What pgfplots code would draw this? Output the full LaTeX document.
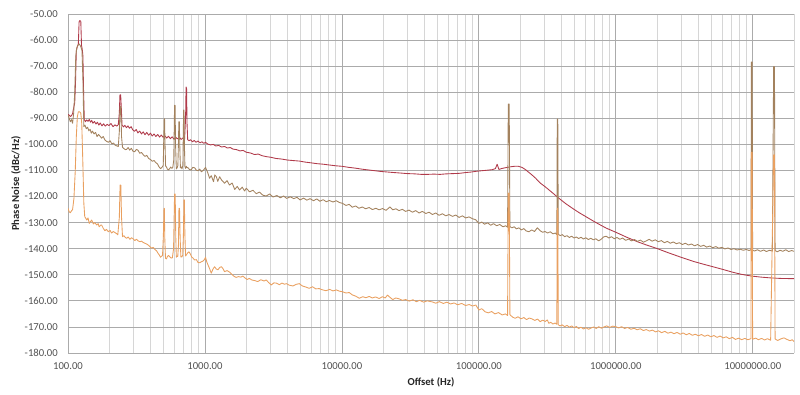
\documentclass[border=0pt]{standalone}
\usepackage{pgfplots}
\pgfplotsset{compat=1.18}
\usepackage{fontspec}
\setmainfont{Carlito}
\definecolor{cred}{HTML}{B03A4A}
\definecolor{cbrown}{HTML}{A3825E}
\definecolor{corange}{HTML}{E9A060}
\begin{document}
\begin{tikzpicture}
\begin{axis}[
  scale only axis,
  width=544.5pt, height=254.25pt,
  xmode=log,
  xmin=100, xmax=20000000,
  ymin=-180, ymax=-50,
  xtick={100,1000,10000,100000,1000000,10000000},
  xticklabels={100.00,1000.00,10000.00,100000.00,1000000.00,10000000.00},
  minor xtick={200,300,400,500,600,700,800,900,2000,3000,4000,5000,6000,7000,8000,9000,20000,30000,40000,50000,60000,70000,80000,90000,200000,300000,400000,500000,600000,700000,800000,900000,2000000,3000000,4000000,5000000,6000000,7000000,8000000,9000000,20000000},
  ytick={-180,-170,-160,-150,-140,-130,-120,-110,-100,-90,-80,-70,-60,-50},
  yticklabels={-180.00,-170.00,-160.00,-150.00,-140.00,-130.00,-120.00,-110.00,-100.00,-90.00,-80.00,-70.00,-60.00,-50.00},
  grid=both,
  major grid style={draw=black!33, line width=0.6pt},
  minor grid style={draw=black!16, line width=0.6pt},
  axis line style={draw=none},
  major tick length=0pt, minor tick length=0pt,
  tick label style={font=\fontsize{8}{9.6}\selectfont, text=black!68},
  yticklabel style={anchor=east, inner sep=0pt, xshift=-7.5pt},
  xticklabel style={anchor=center, inner sep=0pt, yshift=-9.75pt},
  xlabel={Offset (Hz)},
  ylabel={Phase Noise (dBc/Hz)},
  label style={font=\fontsize{8}{9.6}\selectfont\bfseries, text=black!85},
  xlabel style={at={(axis description cs:0.5,-0.0877)}, anchor=center},
  ylabel style={at={(axis description cs:-0.0716,0.5)}, anchor=center, rotate=0},
  every axis plot/.append style={line width=0.65pt, line join=round},
]
% red (upper) trace
\addplot[color=cred] coordinates {
(100,-88.5)(102,-88.8)(104,-89.3)(106,-89.0)(108,-88.2)(110,-86.0)(112,-84.0)(113.5,-76)(115,-64)(117,-62.5)(119,-61.5)(120.5,-53)(122,-52.5)(124,-52.8)(125.5,-62)(127,-63.5)(128.5,-66)(130,-80)(131.5,-90.5)
(134,-91.3)(137,-90.6)(140,-91.2)(143,-90.4)(146,-91.5)(149,-90.8)(152,-91.9)(156,-91.2)(160,-92.2)(164,-91.5)(168,-92.6)(172,-91.8)(177,-92.9)(182,-92.1)(187,-93.0)(193,-92.3)(199,-92.8)(206,-92.0)(213,-93.2)(220,-92.5)(227,-93.0)(233,-92.4)
(237,-88)(239.5,-81)(242.5,-81)(245,-86)(248,-92.6)(254,-93.3)(260,-92.7)(267,-93.6)(274,-92.9)(281,-93.8)(289,-93.2)(297,-94.4)(306,-95.0)(315,-94.3)(324,-95.6)(334,-94.9)(344,-96.0)(354,-95.2)(365,-96.3)(376,-95.4)(388,-96.5)(400,-95.7)
(412,-96.8)(425,-96.0)(438,-97.0)(452,-96.2)(466,-97.2)(480,-96.4)(495,-97.3)(510,-96.7)(526,-97.6)(542,-96.9)(559,-97.8)(576,-97.1)(594,-98.0)(612,-97.3)(631,-97.9)(650,-97.2)(670,-98.1)(690,-97.5)(710,-98.0)
(722,-90)(728,-78)(734,-78.5)(740,-92)(748,-98.2)(765,-98.6)(785,-98.2)(810,-99.0)(835,-98.5)(860,-99.2)(890,-98.7)(920,-99.4)(950,-99.0)(980,-99.6)(1010,-99.2)(1050,-99.9)(1100,-100.2)(1150,-100.0)(1200,-100.6)(1260,-100.4)(1320,-101.0)(1390,-100.8)(1460,-101.4)(1530,-101.2)(1600,-101.8)(1700,-102.0)(1800,-102.5)(1900,-102.3)(2000,-103.0)
(2150,-103.3)(2300,-103.9)(2450,-103.7)(2600,-104.3)(2800,-104.7)(3000,-104.9)(3300,-105.4)(3600,-105.6)(4000,-106.0)(4400,-106.2)(4900,-106.4)(5400,-106.8)(6000,-107.1)(6600,-107.4)(7300,-107.6)(8100,-107.9)(9000,-108.2)(10000,-108.4)
(11200,-108.8)(12500,-109.1)(14000,-109.5)(15600,-109.8)(17400,-110.1)(19400,-110.4)(21600,-110.6)(24000,-110.8)(27000,-111.0)(30000,-111.2)(34000,-111.3)(38000,-111.5)(42000,-111.5)(47000,-111.4)(52000,-111.5)(58000,-111.3)(65000,-111.2)(72000,-111.1)(80000,-110.8)(88000,-110.6)(96000,-110.3)
(105000,-110.1)(115000,-109.9)(125000,-109.7)(132000,-109.3)(136000,-107.6)(140000,-109.6)(148000,-109.2)(158000,-108.9)(170000,-108.6)(182000,-108.4)(194000,-108.4)(206000,-108.8)(218000,-109.6)(230000,-110.6)(244000,-111.7)(260000,-113.0)(280000,-114.8)
(304000,-116.2)(340000,-118.3)(385000,-120.7)(430000,-122.7)(482000,-124.5)(540000,-126.2)(604000,-127.7)(670000,-129.1)(735000,-130.3)(850000,-132.1)(1000000,-133.7)(1200000,-135.6)(1450000,-137.4)(1700000,-138.7)(1970000,-139.8)(2400000,-141.5)(3000000,-143.3)(3700000,-144.9)(4400000,-146.0)(5100000,-146.9)(6000000,-147.9)(7000000,-148.9)(8200000,-149.8)(9800000,-150.5)(11500000,-150.9)(13500000,-151.2)(16000000,-151.4)(20000000,-151.5)
};
% brown (middle) trace
\addplot[color=cbrown] coordinates {
(100,-88.7)(102,-90.0)(104,-91.3)(106,-90.5)(108,-91.9)(110,-88)(112,-80)(114,-66)(116,-63)(118,-62)(121,-61.5)(124,-62.5)(126.5,-64)(128.5,-75)(130.5,-93.2)
(133,-92.6)(136,-94.0)(139,-93.4)(142,-94.8)(145,-94.2)(148,-95.7)(151,-94.9)(155,-96.0)(159,-95.4)(163,-97.0)(167,-96.2)(171,-96.8)(176,-97.6)(181,-97.0)(186,-98.3)(191,-98.8)(197,-99.2)(203,-98.6)(209,-99.8)(215,-99.5)(221,-100.3)(227,-100.6)(233,-100.8)
(237,-95)(240,-85.5)(243,-85.5)(246,-97)(250,-101.1)(256,-101.6)(262,-102.0)(268,-101.9)(275,-101.2)(282,-102.2)(290,-101.5)(298,-102.6)(307,-102.8)(316,-101.9)(325,-102.3)(334,-103.4)(344,-103.1)(355,-104.0)(365,-104.6)(376,-104.2)(388,-105.4)(400,-105.8)
(412,-106.5)(425,-106.2)(438,-107.0)(450,-107.5)(462,-108.6)(474,-109.3)(486,-108.8)(496,-108.0)(501,-96)(504,-90.2)(507,-90.2)(511,-100)(516,-108.3)(523,-108.6)(532,-109.5)(542,-109.8)(552,-109.3)(562,-108.7)(572,-109.2)(582,-108.9)
(592,-106)(600,-85)(605,-85)(610,-100)(618,-109.4)(626,-109.0)(634,-108.2)(640,-100)(645,-91.3)(650,-91.3)(656,-102)(662,-109.0)(670,-108.6)(680,-109.4)(690,-108.0)(695,-95)(699,-86.8)(703,-86.8)(708,-100)(714,-108.5)(722,-109.2)(732,-108.4)(742,-109.0)(751,-108.9)
(770,-109.6)(793,-109.8)(815,-108.8)(842,-109.0)(865,-109.9)(889,-110.1)(915,-109.5)(942,-110.5)(975,-109.9)(1010,-108.8)(1052,-111.1)(1080,-113.0)(1112,-112.0)(1155,-114.3)(1180,-111.7)(1213,-112.5)(1240,-114.2)(1280,-112.4)(1320,-113.6)(1390,-114.9)(1450,-113.9)(1510,-115.6)(1580,-114.8)(1650,-117.3)(1720,-116.1)(1790,-117.5)(1870,-116.4)(1950,-117.9)(2000,-116.8)
(2120,-118.2)(2240,-117.6)(2370,-118.9)(2500,-118.3)(2650,-119.5)(2800,-119.8)(2970,-119.0)(3140,-120.2)(3350,-119.6)(3550,-120.5)(3750,-119.8)(3950,-120.7)(4200,-120.1)(4450,-120.8)(4700,-120.3)(4950,-121.3)(5250,-120.6)(5550,-121.4)(5850,-120.8)(6200,-121.6)(6550,-120.9)(6900,-121.8)(7300,-121.2)(7700,-122.0)(8100,-121.5)(8600,-122.1)(9100,-121.6)(9600,-122.3)
(10100,-122.6)(10700,-123.4)(11300,-123.0)(11900,-124.1)(12600,-123.6)(13300,-124.5)(14100,-124.0)(14900,-124.7)(15800,-124.2)(16700,-125.0)(17700,-124.5)(18700,-125.1)(19800,-124.6)(21000,-125.3)(22400,-124.0)(23500,-125.1)(24800,-124.7)(26100,-125.4)(27600,-124.9)(29200,-125.7)(30900,-125.2)(32700,-126.0)(34600,-125.4)(36600,-126.3)(38700,-125.7)
(41000,-126.5)(43300,-126.0)(45800,-126.9)(48400,-126.3)(51200,-127.2)(54200,-126.6)(57300,-127.4)(60600,-126.9)(64100,-127.6)(67800,-127.1)(71700,-128.0)(75800,-127.4)(80200,-128.2)(84800,-127.8)(89700,-128.5)(94800,-128.9)
(100000,-130.3)(105000,-129.8)(110000,-130.6)(116000,-130.1)(122000,-131.0)(128000,-130.4)(135000,-131.2)(142000,-130.7)(150000,-131.6)(157000,-131.2)(162000,-131.8)(164000,-84.5)(166500,-84.5)(168500,-131.5)(174000,-132.0)(181000,-131.6)(188000,-132.4)(196000,-132.0)(204000,-132.8)(213000,-132.3)(222000,-133.2)(232000,-133.5)(243000,-132.8)(255000,-133.4)(267000,-132.0)(280000,-133.1)(292000,-133.7)
(304000,-133.4)(318000,-134.0)(332000,-133.5)(347000,-134.3)(362000,-134.0)(371000,-134.6)(373500,-90.3)(377000,-90.3)(380000,-134.4)(392000,-135.0)(407000,-134.6)(423000,-135.4)(440000,-135.0)(458000,-135.7)(476000,-135.2)(495000,-135.9)(515000,-135.5)(535000,-136.1)(557000,-135.6)(580000,-136.3)(604000,-135.8)(630000,-136.5)(657000,-136.0)(685000,-136.6)(715000,-136.2)(750000,-137.0)
(780000,-136.4)(815000,-135.5)(850000,-135.2)(890000,-135.9)(930000,-135.4)(975000,-136.2)(1020000,-135.7)(1070000,-136.4)(1120000,-135.9)(1180000,-136.8)(1240000,-136.3)(1300000,-137.0)(1370000,-136.5)(1440000,-137.2)(1510000,-136.7)(1590000,-137.5)(1670000,-137.0)(1750000,-136.4)(1840000,-137.1)(1940000,-136.6)
(2040000,-137.3)(2150000,-136.9)(2260000,-137.7)(2380000,-137.2)(2500000,-137.9)(2630000,-137.4)(2770000,-138.1)(2910000,-137.7)(3060000,-138.4)(3220000,-137.9)(3390000,-138.6)(3570000,-138.2)(3760000,-138.9)(3950000,-138.4)(4160000,-139.1)(4380000,-138.7)(4610000,-139.4)(4850000,-139.0)(5100000,-139.6)(5370000,-139.2)(5650000,-139.8)(5950000,-139.5)
(6260000,-140.1)(6590000,-139.7)(6940000,-140.3)(7300000,-140.0)(7680000,-140.5)(8090000,-140.2)(8510000,-140.6)(8960000,-140.3)(9400000,-140.7)(9700000,-140.4)(9770000,-68.4)(9900000,-68.4)(9970000,-140.6)(10300000,-140.9)(10800000,-140.4)(11400000,-141.0)(12000000,-140.5)(12600000,-141.1)(13200000,-140.6)(13900000,-140.9)(14200000,-70.2)(14400000,-70.2)(14550000,-140.7)(15100000,-141.2)(15800000,-140.6)(16600000,-141.0)(17400000,-140.4)(18300000,-141.1)(19200000,-140.7)(20000000,-141.0)
};
% orange (lower) trace
\addplot[color=corange] coordinates {
(100,-124.5)(102,-125.8)(104,-126.2)(106,-125.5)(108,-125.0)(110.5,-120.7)(113,-110)(115,-97)(117,-89.4)(119,-87.5)(121.5,-87.5)(124,-88)(126,-91.9)(128,-104.7)(130.5,-122.6)(132.5,-127.7)
(135,-128.4)(137,-129.0)(140,-128.2)(143,-130.3)(146,-129.6)(149,-129.0)(153,-130.5)(157,-130.0)(162,-130.9)(166,-130.4)(169,-131.6)(173,-131.0)(176,-130.9)(181,-132.2)(186,-133.1)(191,-132.6)(197,-133.5)(203,-133.0)(208,-134.0)(214,-133.4)(220,-133.8)(226,-134.2)(231,-134.7)
(237,-128)(240,-115.6)(243,-115.6)(246,-128)(250,-135.4)(256,-135.0)(262,-135.7)(268,-136.0)(275,-135.5)(283,-136.4)(291,-135.8)(299,-136.2)(307,-136.9)(316,-136.4)(325,-137.0)(335,-137.3)(344,-137.1)(354,-137.6)(364,-137.9)(375,-138.2)(385,-138.6)(396,-139.2)(407,-139.8)(419,-139.5)(431,-140.3)(443,-140.8)(455,-141.8)(464,-142.4)(474,-143.3)(482,-142.9)(490,-142.6)
(497,-135)(502,-124.5)(505,-124.5)(509,-136)(515,-143.7)(523,-143.9)(533,-142.9)(543,-142.6)(553,-143.1)(565,-143.6)(578,-143.5)(590,-140)(600,-119)(606,-119)(612,-135)(618,-143.3)(624,-142.8)(633,-143.0)(640,-139)(646,-124.5)(652,-124.5)(659,-136)(667,-143.2)(677,-143.2)(688,-142.5)(696,-135)(702,-121.3)(707,-121.3)(714,-135)(722,-142.8)(731,-142.4)
(748,-141.6)(765,-141.2)(782,-142.0)(800,-143.2)(818,-143.6)(840,-144.3)(866,-144.2)(890,-145.3)(915,-145.4)(942,-145.0)(966,-144.8)(990,-144.2)(1010,-143.3)(1030,-145.0)(1052,-146.2)(1080,-147.6)(1112,-149.4)(1145,-147.8)(1176,-146.9)(1210,-147.8)(1245,-148.1)(1280,-147.2)(1320,-146.9)(1360,-147.8)(1390,-148.8)(1450,-148.4)(1515,-149.0)(1570,-149.8)(1630,-150.6)(1690,-151.0)(1760,-150.7)(1830,-150.9)(1890,-150.5)(1960,-151.2)
(2030,-151.8)(2110,-151.4)(2200,-152.0)(2300,-152.2)(2430,-152.6)(2560,-151.9)(2700,-152.4)(2800,-152.0)(2920,-153.0)(3050,-153.9)(3190,-153.1)(3330,-153.2)(3490,-153.8)(3650,-153.2)(3800,-153.6)(3940,-153.4)(4130,-154.0)(4390,-154.3)(4620,-153.7)(4880,-153.4)(5150,-154.3)(5450,-154.7)(5770,-155.2)(6100,-154.6)(6450,-155.4)(6830,-155.3)(7230,-155.8)(7650,-156.1)(8150,-155.6)(8600,-156.2)(9100,-155.8)(9600,-156.3)
(10100,-156.5)(10700,-157.0)(11300,-156.8)(11900,-157.7)(12600,-158.2)(13400,-159.0)(14200,-158.4)(15000,-158.8)(15800,-158.3)(16700,-158.9)(17600,-158.5)(18700,-159.1)(19800,-158.4)(20700,-158.9)(21500,-157.8)(22500,-158.7)(23500,-159.5)(24700,-158.9)(26100,-159.2)(27600,-159.8)(29200,-159.5)(31000,-160.1)(33000,-159.6)(35000,-160.3)(37000,-159.8)(39500,-160.5)
(42000,-160.0)(45600,-160.4)(48500,-160.9)(51500,-160.3)(55000,-161.0)(58500,-160.5)(62000,-161.2)(66000,-160.8)(70000,-161.5)(75000,-161.0)(80000,-161.8)(85000,-161.4)(90000,-162.0)(95000,-161.6)
(100000,-163.5)(105000,-163.0)(111000,-164.2)(117000,-164.6)(124000,-164.1)(131000,-165.0)(139000,-164.5)(148000,-165.4)(156000,-165.0)(162000,-165.6)(164000,-118.7)(166500,-118.7)(168500,-165.3)(176000,-166.2)(184000,-166.7)(193000,-166.1)(203000,-166.9)(213000,-166.4)(223000,-167.2)(233000,-166.6)(244000,-166.9)(256000,-167.5)(268000,-167.0)(280000,-168.0)(292000,-167.4)(305000,-167.9)(316000,-167.3)
(324000,-168.6)(335000,-168.2)(347000,-168.9)(360000,-168.5)(371000,-169.0)(373500,-124.5)(377000,-124.5)(380000,-169.2)(392000,-169.6)(405000,-169.2)(423000,-169.9)(440000,-169.4)(458000,-170.1)(476000,-169.6)(495000,-170.3)(515000,-169.8)(535000,-170.6)(557000,-170.1)(580000,-170.8)(604000,-170.3)(633000,-170.9)(660000,-170.4)(690000,-170.0)(720000,-170.6)(750000,-169.9)(785000,-170.5)(820000,-170.0)(860000,-169.6)(900000,-170.2)(950000,-169.7)
(1000000,-169.9)(1050000,-170.4)(1100000,-169.9)(1160000,-170.6)(1220000,-170.2)(1290000,-170.9)(1360000,-170.5)(1430000,-171.1)(1510000,-170.7)(1590000,-171.4)(1670000,-171.0)(1760000,-171.6)(1850000,-171.2)(1950000,-171.9)(2050000,-171.5)(2160000,-172.2)(2280000,-171.7)(2400000,-172.4)(2530000,-172.0)(2660000,-172.6)(2800000,-172.1)(2950000,-172.8)(3100000,-172.3)(3270000,-173.0)(3440000,-172.5)(3620000,-173.2)(3810000,-172.8)
(4010000,-173.4)(4220000,-172.9)(4450000,-173.6)(4690000,-173.1)(4940000,-173.8)(5200000,-173.3)(5480000,-174.0)(5770000,-173.5)(6080000,-174.2)(6400000,-173.8)(6740000,-174.5)(7100000,-174.0)(7480000,-174.8)(7880000,-174.3)(8300000,-174.9)(8740000,-174.4)(9200000,-174.9)(9700000,-174.5)(9770000,-103)(9900000,-103)(9970000,-174.7)
(10500000,-174.3)(11000000,-174.9)(11600000,-174.4)(12200000,-175.0)(12800000,-174.5)(13500000,-175.1)(14200000,-104)(14400000,-104)(14550000,-174.6)(15200000,-175.2)(16000000,-174.6)(16900000,-174.2)(17800000,-174.8)(18700000,-175.3)(19400000,-174.9)(20000000,-175.6)
};
\coordinate (SW) at (rel axis cs:0,0);
\coordinate (NE) at (rel axis cs:1,1);
\end{axis}
\pgfresetboundingbox
\path[use as bounding box] ([shift={(-51pt,-30.75pt)}]SW) rectangle ([shift={(4.5pt,10.5pt)}]NE);
\end{tikzpicture}
\end{document}
